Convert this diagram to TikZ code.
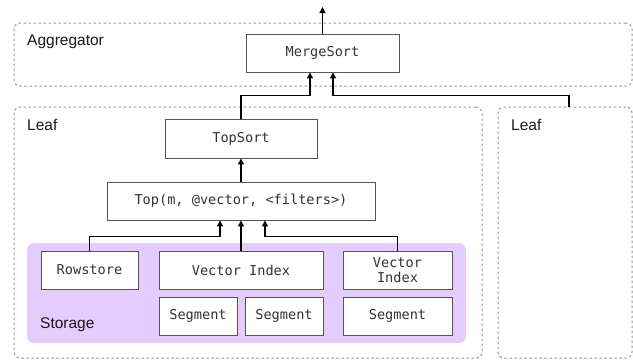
\documentclass[tikz,border=0pt]{standalone}
\usepackage{fontspec}
\setmainfont{Liberation Sans}
\setmonofont{DejaVu Sans Mono}
\usetikzlibrary{arrows.meta}

\definecolor{violetclair}{RGB}{229,204,255}
\definecolor{grisbord}{RGB}{85,85,85}
\definecolor{grispoint}{RGB}{150,150,150}

\tikzset{
  boite/.style={draw=grisbord, line width=0.9pt, fill=white, inner sep=0pt,
    font=\ttfamily\fontsize{13.6}{15}\selectfont, text=black!80, align=center},
  groupe/.style={draw=grispoint, line width=1pt, dash pattern=on 2.5pt off 2.5pt,
    rounded corners=6pt, inner sep=0pt},
  titre/.style={anchor=west, inner sep=0pt, font=\fontsize{15.5}{17}\selectfont,
    text=black!90},
  fleche/.style={-{Triangle[length=6pt,width=6pt]}, line width=1.3pt},
}

\begin{document}
\begin{tikzpicture}[x=1pt, y=-1pt]
\useasboundingbox (0,0) rectangle (633,360);

% Groupes en pointillés
\node[groupe, minimum width=618pt, minimum height=63pt] (agg) at (323,54.5) {};
\node[groupe, minimum width=468pt, minimum height=251pt] (leafa) at (248,232.5) {};
\node[groupe, minimum width=134pt, minimum height=251pt] (leafb) at (565,232.5) {};
\node[titre] (tagg) at (27,42) {Aggregator};
\node[titre] (tleafa) at (27,125) {Leaf};
\node[titre] (tleafb) at (511,125) {Leaf};

% Stockage
\node[fill=violetclair, rounded corners=7pt, inner sep=0pt,
  minimum width=439pt, minimum height=100pt] (storage) at (246.5,293) {};
\node[titre] (tstorage) at (40,325) {Storage};

% Boîtes
\node[boite, minimum width=153pt, minimum height=38pt] (merge) at (322.5,53) {MergeSort};
\node[boite, minimum width=152pt, minimum height=39pt] (topsort) at (241,138.5) {TopSort};
\node[boite, minimum width=268pt, minimum height=38pt] (top) at (241,201)
  {Top(m, @vector, <filters>)};
\node[boite, minimum width=97pt, minimum height=38pt] (rowstore) at (89.5,270) {Rowstore};
\node[boite, minimum width=164pt, minimum height=38pt] (vecidx) at (241,270) {Vector Index};
\node[boite, minimum width=109pt, minimum height=38pt] (vecidxb) at (397.5,270) {Vector\\Index};
\node[boite, minimum width=78pt, minimum height=38pt] (sega) at (198,316) {Segment};
\node[boite, minimum width=78pt, minimum height=38pt] (segb) at (284,316) {Segment};
\node[boite, minimum width=109pt, minimum height=38pt] (segc) at (397.5,316) {Segment};

% Flèches
\coordinate (sortie) at (322.5,7);
\draw[fleche] (merge.north) -- (sortie);
\draw[fleche] (topsort.north) -- ++(0,-23) -| ([xshift=-12.5pt]merge.south);
\draw[fleche] ([xshift=4pt]leafb.north) -- ++(0,-11) -| ([xshift=10.5pt]merge.south);
\draw[fleche] (top.north) -- (topsort.south);
\draw[fleche] (rowstore.north) -- ++(0,-14) -| ([xshift=-21pt]top.south);
\draw[fleche] (vecidx.north) -- (top.south);
\draw[fleche] (vecidxb.north) -- ++(0,-14) -| ([xshift=24pt]top.south);

\end{tikzpicture}
\end{document}
